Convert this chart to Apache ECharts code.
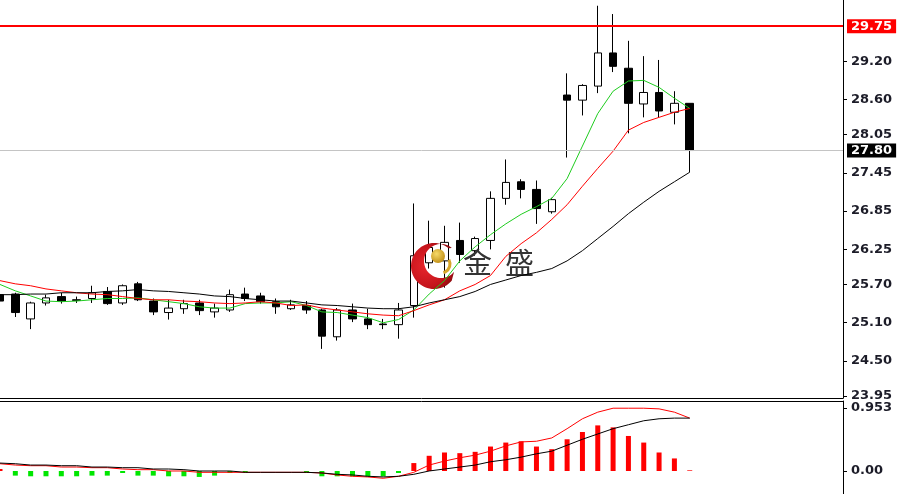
<!DOCTYPE html>
<html>
<head>
<meta charset="utf-8">
<script src="https://cdn.jsdelivr.net/npm/echarts@6/dist/echarts.min.js"></script>
<style>
  html, body { margin: 0; padding: 0; background: #ffffff; }
  #chart { width: 899px; height: 494px; }
</style>
</head>
<body>
<div id="chart"></div>
<script>
// Daily sessions: [open, close, low, high]
const candles = [
  [25.54, 25.44, 25.41, 25.57],
  [25.55, 25.26, 25.19, 25.57],
  [25.16, 25.41, 25.00, 25.43],
  [25.41, 25.49, 25.37, 25.54],
  [25.51, 25.44, 25.40, 25.57],
  [25.46, 25.45, 25.41, 25.51],
  [25.48, 25.57, 25.41, 25.68],
  [25.59, 25.40, 25.38, 25.66],
  [25.41, 25.68, 25.38, 25.70],
  [25.71, 25.46, 25.44, 25.74],
  [25.44, 25.27, 25.22, 25.48],
  [25.26, 25.33, 25.15, 25.46],
  [25.32, 25.40, 25.24, 25.46],
  [25.41, 25.29, 25.22, 25.46],
  [25.27, 25.33, 25.18, 25.40],
  [25.30, 25.54, 25.27, 25.62],
  [25.55, 25.48, 25.44, 25.65],
  [25.52, 25.43, 25.40, 25.57],
  [25.43, 25.35, 25.24, 25.48],
  [25.32, 25.38, 25.30, 25.46],
  [25.37, 25.30, 25.24, 25.44],
  [25.30, 24.89, 24.69, 25.32],
  [24.88, 25.30, 24.82, 25.33],
  [25.30, 25.16, 25.11, 25.40],
  [25.16, 25.07, 25.00, 25.32],
  [25.08, 25.07, 25.00, 25.16],
  [25.07, 25.30, 24.85, 25.41],
  [25.37, 26.15, 25.18, 26.97],
  [26.04, 26.28, 25.95, 26.70],
  [26.07, 26.36, 25.65, 26.62],
  [26.39, 26.17, 26.04, 26.67],
  [26.23, 26.42, 26.15, 26.45],
  [26.39, 27.05, 26.25, 27.16],
  [27.05, 27.30, 26.95, 27.66],
  [27.31, 27.19, 27.05, 27.35],
  [27.19, 26.89, 26.65, 27.33],
  [26.84, 27.03, 26.81, 27.06],
  [28.67, 28.59, 27.69, 29.01],
  [28.59, 28.82, 28.35, 28.84],
  [28.81, 29.33, 28.70, 30.07],
  [29.33, 29.12, 29.03, 29.94],
  [29.09, 28.54, 28.07, 29.52],
  [28.53, 28.71, 28.32, 29.28],
  [28.71, 28.42, 28.32, 29.22],
  [28.40, 28.54, 28.21, 28.73],
  [28.54, 27.80, 27.46, 28.54]
];

// Moving averages (fast / medium / slow)
const maFast = [25.70, 25.60, 25.52, 25.44, 25.43, 25.44, 25.46, 25.48, 25.48, 25.49,
  25.46, 25.43, 25.40, 25.35, 25.33, 25.33, 25.40, 25.41, 25.41, 25.43,
  25.37, 25.27, 25.26, 25.22, 25.18, 25.10, 25.15, 25.30, 25.55, 25.76,
  26.07, 26.29, 26.48, 26.65, 26.80, 26.92, 27.05, 27.36, 27.87, 28.38,
  28.73, 28.89, 28.90, 28.79, 28.62, 28.46];
const maMid = [25.76, 25.71, 25.68, 25.63, 25.60, 25.57, 25.55, 25.54, 25.51, 25.48,
  25.46, 25.46, 25.44, 25.43, 25.41, 25.40, 25.41, 25.43, 25.41, 25.37,
  25.38, 25.33, 25.30, 25.27, 25.24, 25.22, 25.21, 25.29, 25.38, 25.46,
  25.60, 25.70, 25.84, 26.14, 26.34, 26.51, 26.72, 26.95, 27.24, 27.52,
  27.79, 28.12, 28.24, 28.32, 28.40, 28.46];
const maSlow = [25.54, 25.54, 25.55, 25.55, 25.57, 25.57, 25.57, 25.59, 25.60, 25.62,
  25.60, 25.59, 25.57, 25.55, 25.52, 25.51, 25.48, 25.46, 25.44, 25.44,
  25.41, 25.38, 25.37, 25.35, 25.33, 25.32, 25.32, 25.35, 25.41, 25.46,
  25.51, 25.59, 25.70, 25.77, 25.84, 25.89, 25.95, 26.07, 26.23, 26.42,
  26.61, 26.81, 26.99, 27.16, 27.31, 27.46];

// Oscillator pane
const oscHist = [0.03, -0.07, -0.08, -0.08, -0.08, -0.08, -0.07, -0.07, -0.03, -0.07,
  -0.07, -0.08, -0.08, -0.09, -0.07, -0.03, -0.02, 0, 0, 0,
  -0.03, -0.08, -0.08, -0.08, -0.08, -0.08, -0.03, 0.12, 0.23, 0.28,
  0.27, 0.29, 0.37, 0.43, 0.45, 0.37, 0.33, 0.48, 0.59, 0.69,
  0.66, 0.53, 0.43, 0.28, 0.19, 0.01];
const oscSignal = [0.11, 0.09, 0.08, 0.08, 0.06, 0.06, 0.05, 0.05, 0.03, 0.02,
  0.02, 0.00, 0.00, -0.02, -0.02, -0.02, -0.02, -0.02, -0.02, -0.02,
  -0.02, -0.03, -0.06, -0.08, -0.09, -0.11, -0.08, -0.02, 0.09, 0.15,
  0.20, 0.24, 0.30, 0.38, 0.44, 0.45, 0.50, 0.64, 0.79, 0.89,
  0.95, 0.95, 0.95, 0.94, 0.89, 0.80];
const oscMain = [0.12, 0.11, 0.09, 0.09, 0.08, 0.08, 0.06, 0.06, 0.05, 0.05,
  0.03, 0.03, 0.02, 0.00, 0.00, 0.00, -0.02, -0.02, -0.02, -0.02,
  -0.02, -0.03, -0.05, -0.06, -0.08, -0.09, -0.08, -0.05, 0.00, 0.03,
  0.06, 0.09, 0.14, 0.17, 0.21, 0.26, 0.30, 0.39, 0.48, 0.56,
  0.64, 0.70, 0.76, 0.79, 0.80, 0.80];

const priceTicks = [23.95, 24.50, 25.10, 25.70, 26.25, 26.85, 27.45, 28.05, 28.60, 29.20];
const oscTicks = [0, 0.953];
const resistanceLevel = 29.75;
const lastPrice = 27.80;

// slots along the time axis (the right part stays empty)
const slotCount = 56;
const sessions = Array.from({ length: slotCount }, (_, i) => 'D' + (i + 1));

const axisFont = { fontFamily: 'DejaVu Sans', fontSize: 13, fontWeight: 'bold', color: '#1c1c28' };

// crescent outline of the brand mark: outer arc then inner arc back
function crescentPoints(cx, cy, rOut, icx, icy, rIn, a0, a1) {
  const pts = [];
  const steps = 48;
  for (let i = 0; i <= steps; i++) {
    const a = a0 + (a1 - a0) * i / steps;
    pts.push([cx + rOut * Math.cos(a), cy + rOut * Math.sin(a)]);
  }
  for (let i = steps; i >= 0; i--) {
    const a = a0 + (a1 - a0) * i / steps;
    pts.push([icx + rIn * Math.cos(a), icy + rIn * Math.sin(a)]);
  }
  return pts;
}
const crescent = crescentPoints(434, 266, 23, 441, 261, 17, -Math.PI * 0.28, -Math.PI * 1.78);

const chart = echarts.init(document.getElementById('chart'), null, { renderer: 'canvas' });

chart.setOption({
  animation: false,
  backgroundColor: '#ffffff',
  grid: [
    { left: -2.3, right: 56, top: 0, height: 398 },
    { left: -2.3, right: 56, top: 401, height: 93 }
  ],
  xAxis: [
    {
      type: 'category', gridIndex: 0, data: sessions, boundaryGap: false,
      position: 'bottom',
      axisLine: { show: true, lineStyle: { color: '#000', width: 1 } },
      axisTick: { show: false }, axisLabel: { show: false }, splitLine: { show: false }
    },
    {
      type: 'category', gridIndex: 1, data: sessions, boundaryGap: false,
      position: 'top',
      axisLine: { show: true, onZero: false, lineStyle: { color: '#000', width: 1 } },
      axisTick: { show: false }, axisLabel: { show: false }, splitLine: { show: false }
    }
  ],
  yAxis: [
    {
      type: 'value', gridIndex: 0, position: 'right', min: 23.92, max: 30.16,
      axisLine: { show: true, lineStyle: { color: '#000', width: 1 } },
      axisTick: { show: true, length: 4, customValues: priceTicks, lineStyle: { color: '#000' } },
      axisLabel: Object.assign({
        show: true, margin: 8, customValues: priceTicks,
        formatter: v => v.toFixed(2)
      }, axisFont),
      splitLine: { show: false }
    },
    {
      type: 'value', gridIndex: 1, position: 'right', min: -0.348, max: 1.059,
      axisLine: { show: true, lineStyle: { color: '#000', width: 1 } },
      axisTick: { show: true, length: 4, customValues: oscTicks, lineStyle: { color: '#000' } },
      axisLabel: Object.assign({
        show: true, margin: 8, customValues: oscTicks,
        formatter: v => (v === 0 ? '0.00' : v.toFixed(3))
      }, axisFont),
      splitLine: { show: false }
    }
  ],
  graphic: [
    {
      type: 'polygon', z: 3, silent: true,
      shape: { points: crescent },
      style: {
        fill: {
          type: 'radial', x: 0.35, y: 0.5, r: 0.7,
          colorStops: [{ offset: 0, color: '#e8262c' }, { offset: 0.7, color: '#c4141b' }, { offset: 1, color: '#8c0a0f' }]
        }
      }
    },
    {
      type: 'circle', z: 3, silent: true,
      shape: { cx: 438, cy: 256, r: 7 },
      style: {
        fill: {
          type: 'radial', x: 0.4, y: 0.35, r: 0.7,
          colorStops: [{ offset: 0, color: '#f6da6a' }, { offset: 1, color: '#c08e14' }]
        }
      }
    },
    {
      type: 'arc', z: 3, silent: true,
      shape: { cx: 441, cy: 264, r: 9, startAngle: -0.5, endAngle: 1.3 },
      style: { stroke: '#d6a62a', lineWidth: 3, fill: null }
    },
    {
      type: 'text', z: 3, silent: true,
      style: {
        x: 463, y: 263, text: '金  盛', fill: '#333333',
        font: '29px "Noto Sans CJK SC"', verticalAlign: 'middle', align: 'left'
      }
    }
  ],
  series: [
    {
      name: 'price', type: 'candlestick', xAxisIndex: 0, yAxisIndex: 0,
      data: candles, barWidth: 8, z: 2,
      itemStyle: {
        color: '#ffffff', color0: '#000000',
        borderColor: '#000000', borderColor0: '#000000', borderWidth: 1
      },
      markLine: {
        silent: true, symbol: ['none', 'none'], animation: false,
        data: [
          {
            yAxis: resistanceLevel,
            lineStyle: { color: '#ff0000', width: 2, type: 'solid' },
            label: {
              show: true, position: 'end', distance: 4,
              formatter: () => resistanceLevel.toFixed(2),
              backgroundColor: '#ff0000', color: '#ffffff', padding: [1, 4, 0, 4],
              fontFamily: 'DejaVu Sans', fontSize: 13, fontWeight: 'bold'
            }
          },
          {
            yAxis: lastPrice,
            lineStyle: { color: '#c4c4c4', width: 1, type: 'solid' },
            label: {
              show: true, position: 'end', distance: 4,
              formatter: () => lastPrice.toFixed(2),
              backgroundColor: '#000000', color: '#ffffff', padding: [1, 4, 0, 4],
              fontFamily: 'DejaVu Sans', fontSize: 13, fontWeight: 'bold'
            }
          }
        ]
      }
    },
    {
      name: 'MA fast', type: 'line', xAxisIndex: 0, yAxisIndex: 0, data: maFast,
      symbol: 'none', z: 4, lineStyle: { color: '#1fcc1f', width: 1 }
    },
    {
      name: 'MA mid', type: 'line', xAxisIndex: 0, yAxisIndex: 0, data: maMid,
      symbol: 'none', z: 4, lineStyle: { color: '#ff0000', width: 1 }
    },
    {
      name: 'MA slow', type: 'line', xAxisIndex: 0, yAxisIndex: 0, data: maSlow,
      symbol: 'none', z: 4, lineStyle: { color: '#000000', width: 1 }
    },
    {
      name: 'histogram', type: 'bar', xAxisIndex: 1, yAxisIndex: 1, data: oscHist,
      barWidth: 5,
      itemStyle: { color: p => (p.value >= 0 ? '#ff0000' : '#00e600') }
    },
    {
      name: 'signal', type: 'line', xAxisIndex: 1, yAxisIndex: 1, data: oscSignal,
      symbol: 'none', z: 4, lineStyle: { color: '#ff0000', width: 1 }
    },
    {
      name: 'main', type: 'line', xAxisIndex: 1, yAxisIndex: 1, data: oscMain,
      symbol: 'none', z: 4, lineStyle: { color: '#000000', width: 1 }
    }
  ]
});
</script>
</body>
</html>
